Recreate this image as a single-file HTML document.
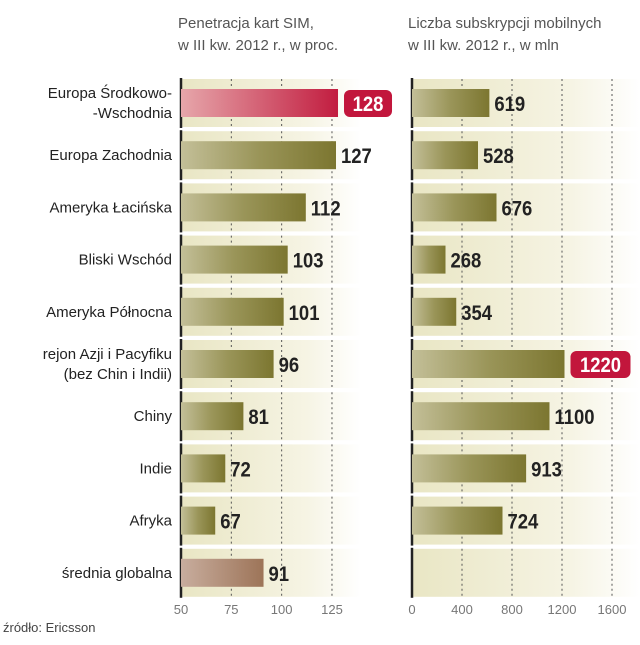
<!DOCTYPE html>
<html><head><meta charset="utf-8"><style>
body{margin:0;background:#fff;width:640px;height:640px;overflow:hidden;font-family:"Liberation Sans",sans-serif}
</style></head><body>
<svg id="c" width="640" height="640" xmlns="http://www.w3.org/2000/svg">
<defs>
<linearGradient id="bg" x1="0" x2="1"><stop offset="0" stop-color="#e9e6c4"/><stop offset="0.7" stop-color="#f6f4e4"/><stop offset="1" stop-color="#fff"/></linearGradient>
<linearGradient id="olive" x1="0" x2="1"><stop offset="0" stop-color="#c3bf98"/><stop offset="0.5" stop-color="#9a9559"/><stop offset="1" stop-color="#7c7630"/></linearGradient>
<linearGradient id="red" x1="0" x2="1"><stop offset="0" stop-color="#e6a6aa"/><stop offset="1" stop-color="#c21d40"/></linearGradient>
<linearGradient id="brown" x1="0" x2="1"><stop offset="0" stop-color="#c8ad9e"/><stop offset="1" stop-color="#9d7458"/></linearGradient>
</defs>
<text x="178" y="28" font-size="15" fill="#555">Penetracja kart SIM,</text>
<text x="178" y="50" font-size="15" fill="#555">w III kw. 2012 r., w proc.</text>
<text x="408" y="28" font-size="15" fill="#555">Liczba subskrypcji mobilnych</text>
<text x="408" y="50" font-size="15" fill="#555">w III kw. 2012 r., w mln</text>
<text x="3" y="632" font-size="13" fill="#444">źródło: Ericsson</text>
<g id="g"></g>
</svg>
<script>
const categories=["Europa Środkowo-|-Wschodnia","Europa Zachodnia","Ameryka Łacińska","Bliski Wschód","Ameryka Północna","rejon Azji i Pacyfiku|(bez Chin i Indii)","Chiny","Indie","Afryka","średnia globalna"];
const penetration=[128,127,112,103,101,96,81,72,67,91];
const subscriptions=[619,528,676,268,354,1220,1100,913,724,null];
const leftTicks=[50,75,100,125];
const rightTicks=[0,400,800,1200,1600];
const NS="http://www.w3.org/2000/svg";
const g=document.getElementById('g');
function xl(v){return 181+(v-50)*2.013;}
function xr(v){return 412+v*0.125;}
function rowY(i){return 103+i*52.2;}
function mk(t,a,p){const e=document.createElementNS(NS,t);for(const k in a)e.setAttribute(k,a[k]);(p||g).appendChild(e);return e;}
function valText(x,y,txt,fill,anchor){
  const t=mk('text',{x:0,y:0,'font-size':21,'font-weight':'bold',fill:fill,'text-anchor':anchor,transform:'translate('+x+','+y+') scale(0.88,1)'});
  t.textContent=txt;return t;
}
for(let i=0;i<categories.length;i++){
  const cy=rowY(i);
  let e=mk('rect',{x:181,y:cy-24,width:180,height:48,fill:'url(#bg)'});
  
  
  e=mk('rect',{x:412,y:cy-24,width:228,height:48,fill:'url(#bg)'});
  
  
  leftTicks.slice(1).forEach(t=>{mk('line',{x1:xl(t),x2:xl(t),y1:cy-24,y2:cy+24,stroke:'#555','stroke-width':1,'stroke-dasharray':'2,3'});});
  rightTicks.slice(1).forEach(t=>{mk('line',{x1:xr(t),x2:xr(t),y1:cy-24,y2:cy+24,stroke:'#555','stroke-width':1,'stroke-dasharray':'2,3'});});
  mk('line',{x1:181,x2:181,y1:cy-25,y2:cy+25,stroke:'#222','stroke-width':2.5});
  mk('line',{x1:412,x2:412,y1:cy-25,y2:cy+25,stroke:'#222','stroke-width':2.5});
  const parts=categories[i].split('|');
  parts.forEach((p,j)=>{const t=mk('text',{x:172,y:cy+5+(j-(parts.length-1)/2)*20,'font-size':15,fill:'#222','text-anchor':'end'});t.textContent=p;
    
    });
  const v=penetration[i];
  const fill=i===0?'url(#red)':(i===9?'url(#brown)':'url(#olive)');
  const b=mk('rect',{x:181,y:cy-14,width:xl(v)-181,height:28,fill:fill});
  
  
  if(i===0){
    mk('rect',{x:xl(v)+6,y:cy-13,width:48,height:27,rx:6,fill:'#c2163c'});
    const t=valText(xl(v)+30,cy+8,v,'#fff','middle');
    
    
  } else {
    const t=valText(xl(v)+5,cy+8,v,'#222','start');
    
    
  }
  const s=subscriptions[i];
  if(s!=null){
    const b2=mk('rect',{x:412,y:cy-14,width:xr(s)-412,height:28,fill:'url(#olive)'});
    
    
    if(s===Math.max(...subscriptions.filter(x=>x!=null))){
      mk('rect',{x:xr(s)+6,y:cy-13,width:60,height:27,rx:6,fill:'#c2163c'});
      const t=valText(xr(s)+36,cy+8,s,'#fff','middle');
      
      
    } else {
      const t=valText(xr(s)+5,cy+8,s,'#222','start');
      
      
    }
  }
}
leftTicks.forEach(t=>{const e=mk('text',{x:xl(t),y:614,'font-size':13,fill:'#777','text-anchor':'middle'});e.textContent=t;
  
  });
rightTicks.forEach(t=>{const e=mk('text',{x:xr(t),y:614,'font-size':13,fill:'#777','text-anchor':'middle'});e.textContent=t;
  
  });
</script>
</body></html>
